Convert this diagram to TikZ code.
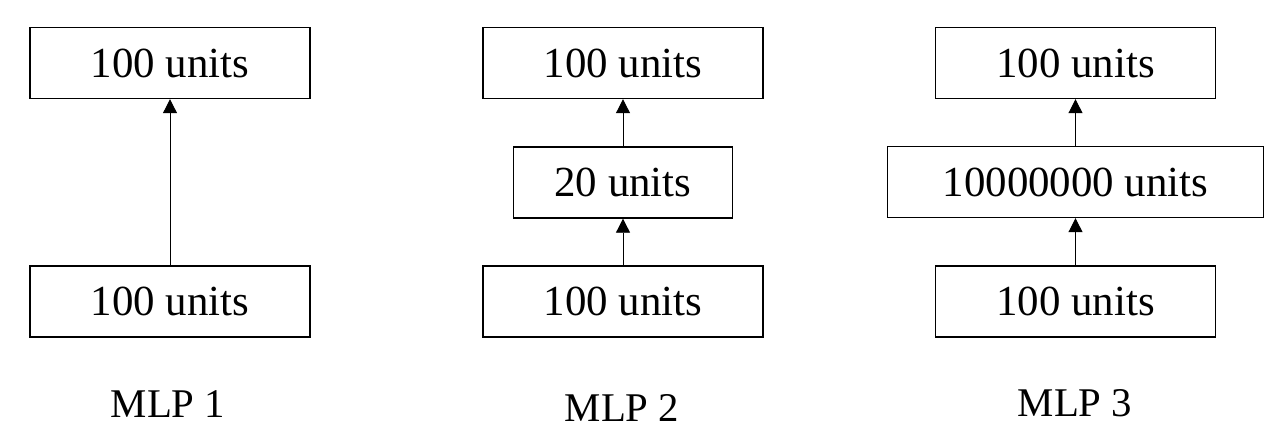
\documentclass[tikz,border=0pt]{standalone}
\usepackage{fontspec}
\setmainfont{Liberation Serif}
\usetikzlibrary{arrows.meta}

\tikzset{
  layer/.style={draw, line width=1.1pt, inner sep=0pt, minimum height=1.77cm, minimum width=7cm, font=\fontsize{30.5}{36}\selectfont},
  feed/.style={line width=0.7pt, -{Triangle[width=10pt,length=10pt]}},
  caption/.style={anchor=base, font=\fontsize{29}{34}\selectfont}
}

\begin{document}
\begin{tikzpicture}[x=0.025cm,y=-0.025cm]
  \useasboundingbox (0,0) rectangle (1280,447);
  % MLP 1
  \node[layer] (inA) at (170,301.5) {100 units}; \node[layer] (outA) at (170,63) {100 units};
  \draw[feed] (inA.north) -- (outA.south);
  \node[caption] (capA) at (168,417) {MLP 1};
  % MLP 2
  \node[layer] (inB) at (623,301.5) {100 units}; \node[layer, minimum width=5.48cm] (hidB) at (623,182.5) {20 units}; \node[layer] (outB) at (623,63) {100 units};
  \draw[feed] (inB.north) -- (hidB.south); \draw[feed] (hidB.north) -- (outB.south);
  \node[caption] (capB) at (622,421) {MLP 2};
  % MLP 3
  \node[layer] (inC) at (1075.5,301.5) {100 units}; \node[layer, minimum width=9.4cm] (hidC) at (1075.5,182) {10000000 units}; \node[layer] (outC) at (1075.5,63) {100 units};
  \draw[feed] (inC.north) -- (hidC.south); \draw[feed] (hidC.north) -- (outC.south);
  \node[caption] (capC) at (1075,416) {MLP 3};
\end{tikzpicture}
\end{document}
